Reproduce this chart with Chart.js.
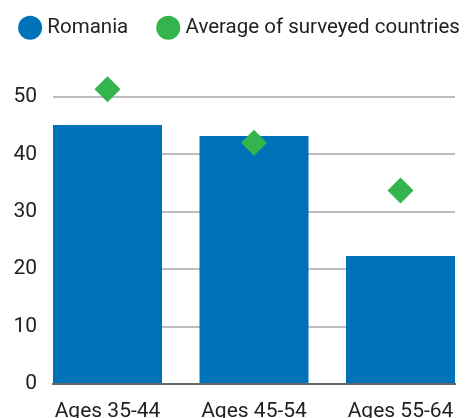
<!DOCTYPE html>
<html>
<head>
<meta charset="utf-8">
<script src="https://cdn.jsdelivr.net/npm/chart.js@4"></script>
<style>
  html, body { margin: 0; padding: 0; background: #fff; }
  #wrap { width: 472px; height: 418px; }
</style>
</head>
<body>
<div id="wrap"><canvas id="grafico" width="472" height="418"></canvas></div>
<script>
const categorias = ['Ages 35-44', 'Ages 45-54', 'Ages 55-64'];
const valoresRomania = [45.1, 43.2, 22.3];
const valoresPromedio = [51.3, 42.0, 33.7];
const ticksY = [0, 10, 20, 30, 40, 50];

Chart.defaults.font.family = 'Roboto, "Noto Sans", sans-serif';
Chart.defaults.font.size = 21;
Chart.defaults.color = '#222';

const ctx = document.getElementById('grafico').getContext('2d');

// el padding negativo a los lados deja que la leyenda quepa en una sola fila
new Chart(ctx, {
    type: 'bar',
    data: {
        datasets: [
            {
                label: 'Romania',
                data: valoresRomania.map((v, i) => ({ x: i, y: v })),
                backgroundColor: '#0072BA',
                borderWidth: 0,
                barPercentage: 1,
                categoryPercentage: 0.744,
                order: 1
            },
            {
                label: 'Average of surveyed countries',
                type: 'line',
                data: valoresPromedio.map((v, i) => ({ x: i, y: v })),
                showLine: false,
                pointStyle: 'rectRot',
                pointRadius: 13,
                backgroundColor: '#34B44C',
                borderColor: '#34B44C',
                borderWidth: 0,
                order: 0
            }
        ]
    },
    options: {
        responsive: false,
        animation: false,
        layout: { padding: { top: -15.5, left: -20, right: -31 } },
        plugins: {
            legend: {
                labels: {
                    usePointStyle: true,
                    pointStyle: 'circle',
                    boxWidth: 14,
                    boxHeight: 17,
                    padding: 33,
                    color: '#222',
                    font: { size: 20.5 },
                    sort: (a, b) => a.datasetIndex - b.datasetIndex
                }
            },
            tooltip: { enabled: false }
        },
        scales: {
            x: {
                type: 'linear',
                min: -0.372,
                max: 2.372,
                offset: false,
                z: 1,
                afterBuildTicks: s => { s.ticks = categorias.map((_, i) => ({ value: i })); },
                afterFit: s => { s.height = 34; },
                ticks: {
                    padding: 15,
                    callback: v => categorias[v]
                },
                grid: { display: false, drawTicks: false, offset: false },
                border: { display: true, color: '#666', width: 2 }
            },
            y: {
                min: 0,
                max: 58.5,
                afterBuildTicks: s => { s.ticks = ticksY.map(v => ({ value: v })); },
                afterFit: s => { s.width = 73; },
                ticks: { padding: 16 },
                grid: {
                    color: c => c.tick && c.tick.value === 0 ? 'rgba(0,0,0,0)' : '#bdbdbd',
                    lineWidth: 2,
                    drawTicks: false
                },
                border: { display: false }
            },
            derecha: {
                position: 'right',
                afterFit: s => { s.width = 48; },
                ticks: { display: false },
                grid: { display: false, drawTicks: false },
                border: { display: false }
            }
        }
    }
});
</script>
</body>
</html>
